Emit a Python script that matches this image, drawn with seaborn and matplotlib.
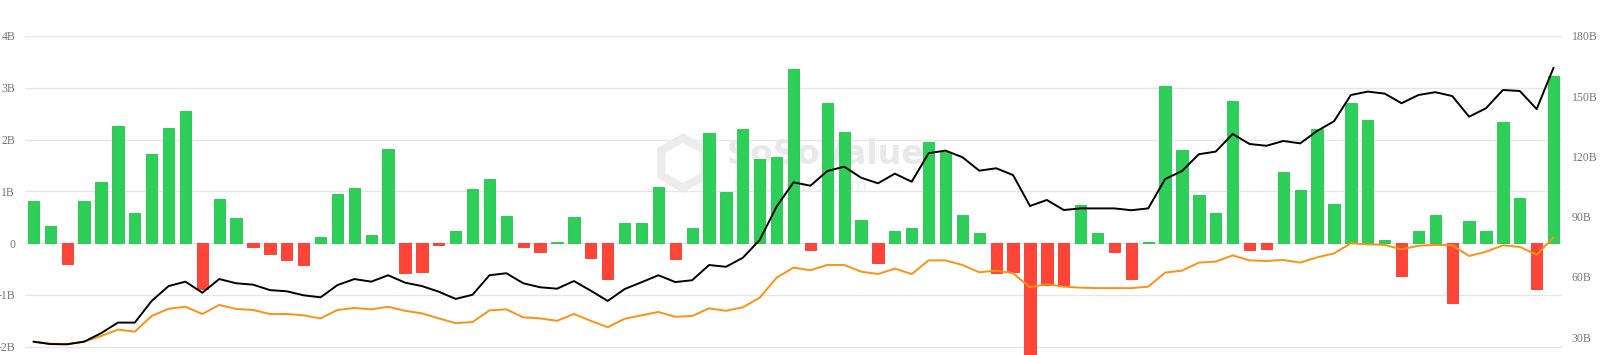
import matplotlib
matplotlib.use("Agg")
import matplotlib.pyplot as plt
from matplotlib.patches import RegularPolygon
from matplotlib.transforms import IdentityTransform
import seaborn as sns
import numpy as np
import pandas as pd

# ---- data ----
days = list(range(1, 92))

net_flow_b = [
    0.81, 0.33, -0.41, 0.81, 1.18, 2.27, 0.58, 1.72, 2.23, 2.55,
    -0.89, 0.86, 0.48, -0.08, -0.20, -0.33, -0.43, 0.11, 0.94, 1.06,
    0.16, 1.81, -0.58, -0.55, -0.04, 0.23, 1.04, 1.23, 0.52, -0.08,
    -0.17, 0.03, 0.50, -0.28, -0.70, 0.39, 0.39, 1.09, -0.30, 0.30,
    2.12, 0.98, 2.21, 1.62, 1.67, 3.37, -0.13, 2.71, 2.15, 0.44,
    -0.39, 0.24, 0.30, 1.95, 1.76, 0.55, 0.19, -0.58, -0.56, -2.40,
    -0.81, -0.83, 0.73, 0.19, -0.17, -0.70, 0.02, 3.04, 1.79, 0.93,
    0.59, 2.74, -0.14, -0.12, 1.38, 1.02, 2.21, 0.76, 2.71, 2.37,
    0.06, -0.63, 0.24, 0.54, -1.16, 0.43, 0.24, 2.33, 0.88, -0.89,
    3.22,
]

total_assets_b = [
    27.7, 26.5, 26.4, 27.7, 31.9, 37.2, 37.2, 48.0, 55.4, 57.6,
    52.1, 58.9, 56.8, 56.1, 53.4, 52.8, 50.8, 49.8, 55.9, 58.9,
    57.6, 60.8, 57.1, 55.4, 52.6, 49.0, 51.1, 60.8, 61.8, 56.8,
    54.8, 54.1, 57.9, 53.1, 48.0, 53.9, 57.3, 60.8, 57.4, 58.3,
    65.9, 65.0, 69.5, 78.4, 95.0, 107.1, 105.4, 112.7, 114.9, 109.4,
    106.6, 111.4, 107.4, 121.6, 122.9, 119.6, 112.9, 114.1, 110.7, 95.3,
    98.3, 93.3, 94.1, 94.1, 94.1, 93.2, 94.1, 108.7, 112.7, 121.1,
    122.4, 131.2, 126.2, 125.3, 127.7, 126.5, 132.7, 137.5, 150.6, 152.3,
    151.3, 146.5, 150.6, 152.0, 150.1, 139.8, 144.0, 153.1, 152.6, 143.6,
    164.2,
]

cum_inflow_b = [
    27.7, 26.7, 26.5, 27.7, 30.5, 33.7, 32.7, 40.5, 44.1, 45.1,
    41.5, 46.0, 44.0, 43.5, 41.5, 41.5, 40.8, 39.3, 43.5, 44.5,
    43.8, 45.1, 43.1, 41.8, 39.3, 36.9, 37.5, 43.3, 43.8, 39.8,
    39.3, 38.1, 41.5, 38.1, 34.9, 39.1, 40.8, 42.5, 40.1, 40.5,
    44.3, 43.1, 44.8, 49.6, 59.6, 64.6, 63.3, 65.9, 65.9, 62.6,
    61.4, 64.1, 61.4, 68.2, 68.2, 65.9, 62.3, 63.1, 61.8, 54.8,
    56.4, 55.1, 54.6, 54.4, 54.4, 54.4, 55.1, 62.1, 63.1, 67.1,
    67.6, 70.7, 68.2, 67.9, 68.4, 67.1, 69.7, 71.7, 76.7, 76.2,
    75.9, 73.7, 75.5, 75.9, 75.7, 70.4, 72.5, 75.7, 74.9, 71.0,
    79.7,
]

left_ticks = [-2, -1, 0, 1, 2, 3, 4]
left_labels = ["-2B", "-1B", "0", "1B", "2B", "3B", "4B"]
right_ticks = [30, 60, 90, 120, 150, 180]
right_labels = ["30B", "60B", "90B", "120B", "150B", "180B"]

# ---- styling ----
GREEN = "#2ecf58"
GREEN_EDGE = "#22c24c"
RED = "#ff4438"
RED_EDGE = "#f2362b"
ORANGE = "#fb9214"
LABEL_COLOR = "#777777"

sns.set_theme(style="white")
plt.rcParams["font.family"] = ["Liberation Serif", "DejaVu Serif"]

W, H = 1600, 355
fig = plt.figure(figsize=(16, 3.55), dpi=100)
ax = fig.add_axes([25 / W, 0.0, (1562 - 25) / W, 1 - 36 / H])

df = pd.DataFrame({
    "day": [str(d) for d in days],
    "flow": net_flow_b,
})
df["sign"] = np.where(df["flow"] >= 0, "in", "out")

sns.barplot(data=df, x="day", y="flow", hue="sign",
            palette={"in": GREEN, "out": RED}, dodge=False,
            width=0.67, legend=False, ax=ax, saturation=1)
for patch in ax.patches:
    h = patch.get_height()
    patch.set_edgecolor(GREEN_EDGE if h >= 0 else RED_EDGE)
    patch.set_linewidth(0.6)
    patch.set_zorder(2)

ax.set_xlim(-0.5, len(days) - 0.5)
ax.set_ylim(-2.16, 4.0)
ax.set_yticks(left_ticks)
ax.set_yticklabels(left_labels)
ax.set_xticks([])
ax.set_xlabel("")
ax.set_ylabel("")
ax.grid(axis="y", color="#e6e6e6", linewidth=1.0)
ax.set_axisbelow(True)
for s in ax.spines.values():
    s.set_visible(False)
ax.tick_params(axis="y", length=0, pad=7, labelsize=8.5, labelcolor=LABEL_COLOR)

# watermark (logo + text), very faint, drawn below the bars
hexagon = RegularPolygon((683, H - 163), numVertices=6, radius=25,
                         orientation=0, transform=IdentityTransform(),
                         facecolor="none", edgecolor="#ececec",
                         linewidth=6, zorder=0.8)
ax.add_artist(hexagon)
ax.text(826 / W, 1 - 154 / H, "SoSoValue", fontsize=24, fontweight="bold",
        color="#e9e9e9", ha="center", va="center", transform=fig.transFigure,
        family=["DejaVu Sans"], zorder=0.8)
ax.text(800 / W, 1 - 186 / H, "sosovalue.com", fontsize=13,
        color="#eeeeee", ha="center", va="center", transform=fig.transFigure,
        family=["DejaVu Sans"], zorder=0.8)

ax2 = ax.twinx()
xpos = np.arange(len(days))
sns.lineplot(x=xpos, y=cum_inflow_b, ax=ax2, color=ORANGE, linewidth=1.4)
sns.lineplot(x=xpos, y=total_assets_b, ax=ax2, color="#000000", linewidth=1.4)
ax2.set_ylim(21.06, 180)
ax2.set_yticks(right_ticks)
ax2.set_yticklabels(right_labels)
ax2.set_xlim(-0.5, len(days) - 0.5)
ax2.grid(False)
ax2.set_ylabel("")
for s in ax2.spines.values():
    s.set_visible(False)
ax2.tick_params(axis="y", length=0, pad=7, labelsize=8.5, labelcolor=LABEL_COLOR)

fig.savefig("out.png", dpi=100, facecolor="white")
